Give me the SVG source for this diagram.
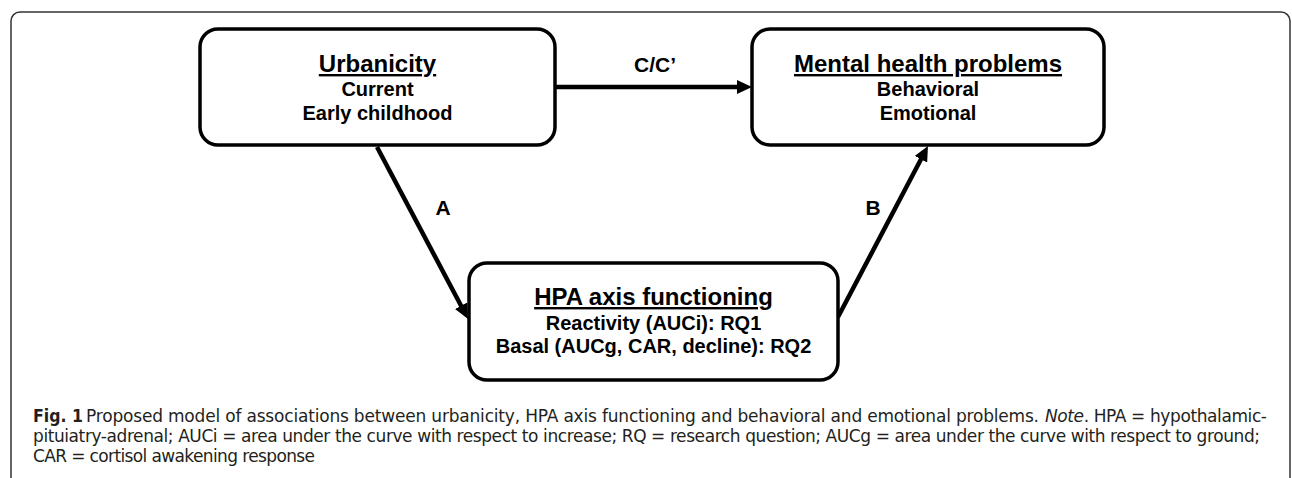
<svg xmlns="http://www.w3.org/2000/svg" width="1292" height="478" viewBox="0 0 1292 478">
  <style>
    .box { fill: #ffffff; stroke: #000000; stroke-width: 3.5; }
    .title { font-family: "Liberation Sans", Arial, sans-serif; font-weight: bold; font-size: 24px; text-anchor: middle; fill: #000; text-decoration: underline; }
    .sub { font-family: "Liberation Sans", Arial, sans-serif; font-weight: bold; font-size: 20px; text-anchor: middle; fill: #000; }
    .lbl { font-family: "Liberation Sans", Arial, sans-serif; font-weight: bold; font-size: 21px; text-anchor: middle; fill: #000; }
    .conn { stroke: #000000; stroke-width: 4.5; fill: none; marker-end: url(#arrow); }
    .cap { font-family: "DejaVu Sans", "Open Sans", sans-serif; font-weight: 400; font-size: 17px; fill: #231f20; }
    .capb { font-weight: bold; }
    .capi { font-style: italic; }
  </style>
  <defs>
    <marker id="arrow" markerUnits="userSpaceOnUse" viewBox="0 0 15 14" markerWidth="15" markerHeight="14" refX="2" refY="7" orient="auto">
      <path d="M0,0 L15,7 L0,14 z" fill="#000000"/>
    </marker>
  </defs>
  <rect x="0" y="0" width="1292" height="478" fill="#ffffff"/>
  <rect id="frame" x="11" y="12" width="1279" height="480" rx="9" ry="9" fill="none" stroke="#333333" stroke-width="1.5"/>

  <g id="connectors">
    <line class="conn" x1="555" y1="87" x2="739" y2="87"/>
    <line class="conn" x1="377" y1="147" x2="462" y2="307.5"/>
    <line class="conn" x1="838" y1="317" x2="921.9" y2="157.5"/>
    <text class="lbl" x="655" y="72">C/C’</text>
    <text class="lbl" x="443" y="215">A</text>
    <text class="lbl" x="873" y="215">B</text>
  </g>

  <g id="urbanicity">
    <rect class="box" x="200" y="29" width="355" height="116" rx="18" ry="18"/>
    <text class="title" x="377.5" y="72">Urbanicity</text>
    <text class="sub" x="377.5" y="96">Current</text>
    <text class="sub" x="377.5" y="120">Early childhood</text>
  </g>

  <g id="mental">
    <rect class="box" x="752" y="29" width="352" height="116" rx="18" ry="18"/>
    <text class="title" x="928" y="72">Mental health problems</text>
    <text class="sub" x="928" y="96">Behavioral</text>
    <text class="sub" x="928" y="120">Emotional</text>
  </g>

  <g id="hpa">
    <rect class="box" x="469" y="263" width="369" height="117" rx="18" ry="18"/>
    <text class="title" x="653.5" y="305">HPA axis functioning</text>
    <text class="sub" x="653.5" y="330">Reactivity (AUCi): RQ1</text>
    <text class="sub" x="653.5" y="353">Basal (AUCg, CAR, decline): RQ2</text>
  </g>

  <g id="caption">
    <text class="cap capb" x="33" y="422" textLength="50" lengthAdjust="spacingAndGlyphs">Fig. 1</text>
    <text class="cap" x="86" y="422" textLength="953" lengthAdjust="spacing">Proposed model of associations between urbanicity, HPA axis functioning and behavioral and emotional problems.</text>
    <text class="cap" x="1045" y="422" textLength="222" lengthAdjust="spacing"><tspan class="capi">Note</tspan>. HPA = hypothalamic-</text>
    <text class="cap" x="33" y="442" textLength="1227" lengthAdjust="spacing">pituiatry-adrenal; AUCi = area under the curve with respect to increase; RQ = research question; AUCg = area under the curve with respect to ground;</text>
    <text class="cap" x="33" y="462" textLength="282" lengthAdjust="spacing">CAR = cortisol awakening response</text>
  </g>
</svg>
